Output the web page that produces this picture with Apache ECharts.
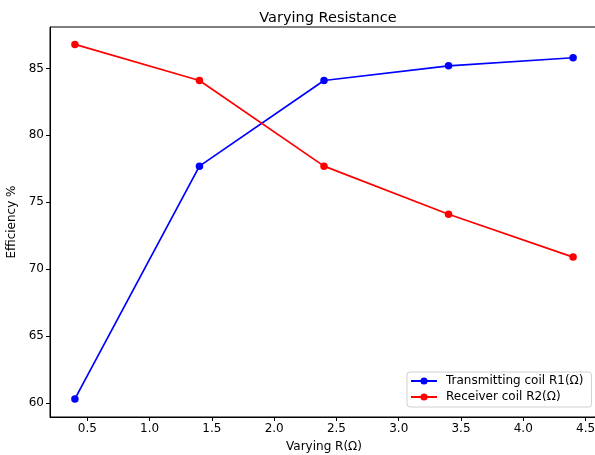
<!DOCTYPE html>
<html>
<head>
<meta charset="utf-8">
<script src="https://cdn.jsdelivr.net/npm/echarts@6/dist/echarts.min.js"></script>
<style>
  html, body { margin: 0; padding: 0; background: #fff; }
  #main { width: 595px; height: 455px; }
</style>
</head>
<body>
<div id="main"></div>
<script>
// values
var resistance = [0.4, 1.4, 2.4, 3.4, 4.4]
var transmitting = [60.3, 77.7, 84.1, 85.2, 85.8]
var receiver = [86.8, 84.1, 77.7, 74.1, 70.9]
var xTicks = [0.5, 1.0, 1.5, 2.0, 2.5, 3.0, 3.5, 4.0, 4.5]
var yTicks = [60, 65, 70, 75, 80, 85]

var font = 'DejaVu Sans'

function pairs(xs, ys) {
    return xs.map(function (x, i) { return [x, ys[i]] })
}

var chart = echarts.init(document.getElementById('main'), null, { renderer: 'canvas' })

var option = {
    animation: false,
    backgroundColor: '#fff',
    title: {
        text: 'Varying Resistance',
        left: 323,
        top: 6,
        textAlign: 'center',
        textStyle: { fontFamily: font, fontSize: 14.5, fontWeight: 'normal', color: '#000' }
    },
    grid: {
        left: 50,
        top: 27,
        right: -3,
        bottom: 38,
        outerBoundsMode: 'none',
        containLabel: false,
        show: true,
        borderColor: '#000',
        borderWidth: 1,
        backgroundColor: 'transparent'
    },
    legend: {
        orient: 'vertical',
        left: 407,
        top: 372,
        itemWidth: 26,
        itemHeight: 9,
        itemGap: 4,
        padding: [3, 8, 4, 3],
        borderColor: '#d0d0d0',
        borderWidth: 1,
        borderRadius: 3,
        textStyle: { fontFamily: font, fontSize: 12, color: '#000', padding: [0, 0, 0, 4] },
        data: ['Transmitting coil R1(Ω)', 'Receiver coil R2(Ω)']
    },
    xAxis: {
        type: 'value',
        min: 0.2,
        max: 4.6,
        name: 'Varying R(Ω)',
        nameLocation: 'middle',
        nameGap: 24,
        nameTextStyle: { fontFamily: font, fontSize: 12, color: '#000' },
        axisLine: { show: true, lineStyle: { color: '#000', width: 1 } },
        axisTick: { show: true, length: 4, lineStyle: { color: '#000' }, customValues: xTicks },
        axisLabel: {
            fontFamily: font, fontSize: 12, color: '#000', margin: 6,
            customValues: xTicks,
            formatter: function (v) { return v.toFixed(1) }
        },
        splitLine: { show: false }
    },
    yAxis: {
        type: 'value',
        min: 58.95,
        max: 88.1,
        name: 'Efficiency %',
        nameLocation: 'middle',
        nameGap: 31,
        nameTextStyle: { fontFamily: font, fontSize: 12, color: '#000' },
        axisLine: { show: true, lineStyle: { color: '#000', width: 1 } },
        axisTick: { show: true, length: 4, lineStyle: { color: '#000' }, customValues: yTicks },
        axisLabel: {
            fontFamily: font, fontSize: 12, color: '#000', margin: 6,
            customValues: yTicks
        },
        splitLine: { show: false }
    },
    series: [
        {
            name: 'Transmitting coil R1(Ω)',
            type: 'line',
            data: pairs(resistance, transmitting),
            symbol: 'circle',
            symbolSize: 7.5,
            color: '#0000ff',
            lineStyle: { color: '#0000ff', width: 1.7 },
            itemStyle: { color: '#0000ff' },
            z: 2
        },
        {
            name: 'Receiver coil R2(Ω)',
            type: 'line',
            data: pairs(resistance, receiver),
            symbol: 'circle',
            symbolSize: 7.5,
            color: '#ff0000',
            lineStyle: { color: '#ff0000', width: 1.7 },
            itemStyle: { color: '#ff0000' },
            z: 3
        }
    ]
}
chart.setOption(option)
</script>
</body>
</html>
